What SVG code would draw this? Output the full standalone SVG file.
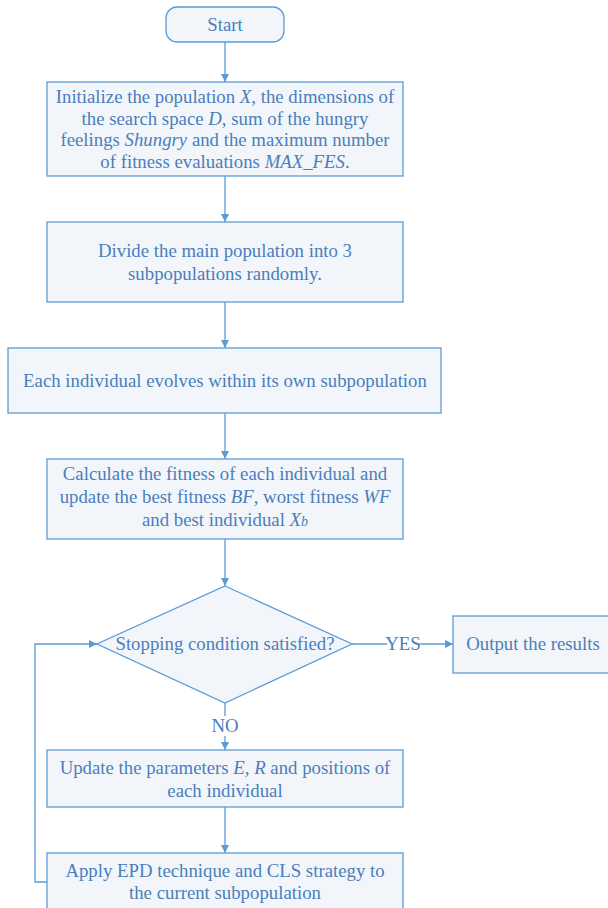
<svg xmlns="http://www.w3.org/2000/svg" width="608" height="908" viewBox="0 0 608 908">
<defs>
<marker id="ah" viewBox="0 0 10 10" refX="10" refY="5" markerWidth="8" markerHeight="8" markerUnits="userSpaceOnUse" orient="auto">
<path d="M0,0 L10,5 L0,10 z" fill="#5b9bd5"/>
</marker>
<style>
.box{fill:#f2f6fb;stroke:#5b9bd5;stroke-width:1.3}
.t{font-size:18.8px;fill:#4a7ebb;text-anchor:middle}
.i{font-style:italic}
.c{fill:none;stroke:#5b9bd5;stroke-width:1.3;marker-end:url(#ah)}
.l{fill:none;stroke:#5b9bd5;stroke-width:1.3}
</style>
</defs>
<rect width="608" height="908" fill="#ffffff"/>
<g font-family="Liberation Serif, Times New Roman, serif">
<g id="connectors">
<path class="c" d="M225,42 V82"/>
<path class="c" d="M225,176 V222"/>
<path class="c" d="M225,302 V348"/>
<path class="c" d="M225,413 V459"/>
<path class="c" d="M225,539 V586"/>
<path class="l" d="M352,644 H387"/>
<path class="c" d="M419,644 H453"/>
<path class="l" d="M225,703 V716"/>
<path class="c" d="M225,736 V750"/>
<path class="c" d="M225,807 V853"/>
<path class="c" d="M47,882 H35 V644 H97"/>
<text class="t" x="403" y="650">YES</text>
<text class="t" x="225" y="732">NO</text>
</g>
<g id="start">
<rect class="box" x="166" y="7" width="118" height="35" rx="11"/>
<text class="t" x="225" y="31">Start</text>
</g>
<g id="init">
<rect class="box" x="47" y="82" width="356" height="94"/>
<text class="t" x="225" y="103">Initialize the population <tspan class="i">X</tspan>, the dimensions of</text>
<text class="t" x="225" y="125">the search space <tspan class="i">D</tspan>, sum of the hungry</text>
<text class="t" x="225" y="146">feelings <tspan class="i">Shungry</tspan> and the maximum number</text>
<text class="t" x="225" y="168">of fitness evaluations <tspan class="i">MAX_FES</tspan>.</text>
</g>
<g id="divide">
<rect class="box" x="47" y="222" width="356" height="80"/>
<text class="t" x="225" y="257">Divide the main population into 3</text>
<text class="t" x="225" y="280">subpopulations randomly.</text>
</g>
<g id="evolve">
<rect class="box" x="8" y="348" width="433" height="65"/>
<text class="t" x="225" y="387">Each individual evolves within its own subpopulation</text>
</g>
<g id="fitness">
<rect class="box" x="47" y="459" width="356" height="80"/>
<text class="t" x="225" y="480">Calculate the fitness of each individual and</text>
<text class="t" x="225" y="503">update the best fitness <tspan class="i">BF</tspan>, worst fitness <tspan class="i">WF</tspan></text>
<text class="t" x="225" y="526">and best individual <tspan class="i">X</tspan><tspan class="i" font-size="14">b</tspan></text>
</g>
<g id="decision">
<path class="box" d="M225,586 L352,644 L225,703 L97,644 Z"/>
<text class="t" x="225" y="650">Stopping condition satisfied?</text>
</g>
<g id="output">
<rect class="box" x="453" y="616" width="160" height="57"/>
<text class="t" x="533" y="650">Output the results</text>
</g>
<g id="update">
<rect class="box" x="47" y="750" width="356" height="57"/>
<text class="t" x="225" y="774">Update the parameters <tspan class="i">E, R</tspan> and positions of</text>
<text class="t" x="225" y="797">each individual</text>
</g>
<g id="apply">
<rect class="box" x="47" y="853" width="356" height="60"/>
<text class="t" x="225" y="877">Apply EPD technique and CLS strategy to</text>
<text class="t" x="225" y="899">the current subpopulation</text>
</g>
</g>
</svg>
